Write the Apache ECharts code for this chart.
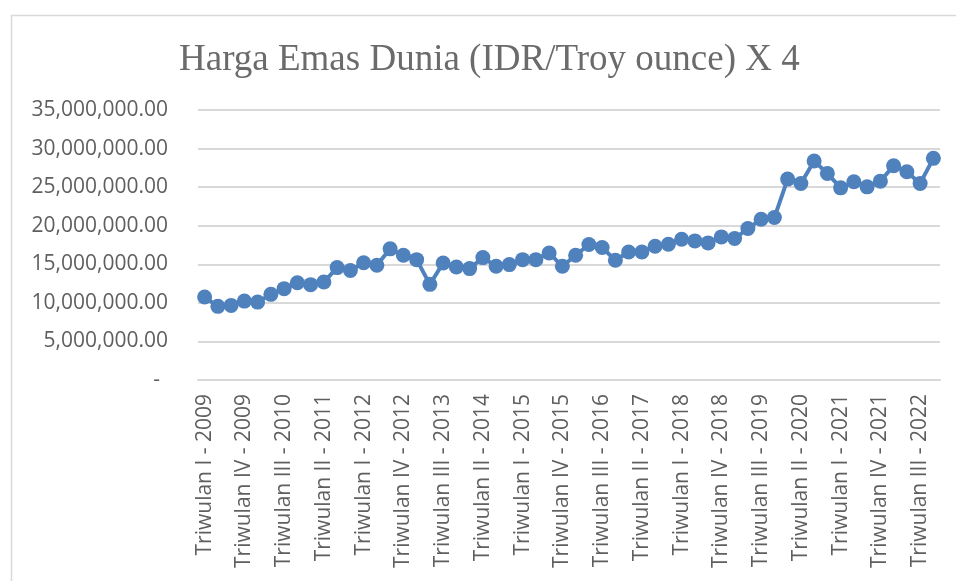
<!DOCTYPE html>
<html>
<head>
<meta charset="utf-8">
<title>Harga Emas Dunia</title>
<script src="https://cdn.jsdelivr.net/npm/echarts@6/dist/echarts.min.js"></script>
<style>
  html, body { margin: 0; padding: 0; background: #fff; }
  #chart { width: 956px; height: 581px; }
</style>
</head>
<body>
<div id="chart"></div>
<script>
// tahun dan triwulan -> kategori sumbu x
const years = [2009, 2010, 2011, 2012, 2013, 2014, 2015, 2016, 2017, 2018, 2019, 2020, 2021, 2022];
const quarters = ['I', 'II', 'III', 'IV'];

// harga emas (IDR/troy ounce) x 4, per triwulan
const prices = [
  10750000, 9550000, 9670000, 10230000, 10100000, 11100000, 11840000, 12600000,
  12360000, 12700000, 14570000, 14200000, 15200000, 14870000, 17000000, 16170000,
  15600000, 12400000, 15170000, 14650000, 14440000, 15870000, 14740000, 14960000,
  15600000, 15600000, 16470000, 14740000, 16170000, 17560000, 17170000, 15520000,
  16600000, 16600000, 17340000, 17600000, 18250000, 18030000, 17770000, 18550000,
  18340000, 19630000, 20840000, 21060000, 26040000, 25480000, 28380000, 26780000,
  24910000, 25690000, 25040000, 25780000, 27770000, 26990000, 25480000, 28730000
];

const yTicks = { min: 0, max: 35000000, step: 5000000 };

let categories = [];
years.forEach(y => {
  quarters.forEach(q => categories.push('Triwulan ' + q + ' - ' + y));
});

function fmt(v) {
  if (v === 0) return '{d|-}';
  let s = String(Math.round(v)).replace(/\B(?=(\d{3})+(?!\d))/g, ',');
  return s + '.00';
}

var myChart = echarts.init(document.getElementById('chart'));
var option = {
  animation: false,
  backgroundColor: '#ffffff',
  title: {
    text: 'Harga Emas Dunia (IDR/Troy ounce) X 4',
    left: 174,
    top: 37,
    textStyle: {
      fontFamily: 'Liberation Serif',
      fontSize: 37,
      fontWeight: 'normal',
      color: '#6b6b6b'
    }
  },
  graphic: [{
    type: 'rect',
    left: 9,
    top: 13,
    shape: { width: 1000, height: 1000 },
    style: { fill: 'none', stroke: '#d9d9d9', lineWidth: 1.5 },
    silent: true
  }],
  grid: {
    left: 198,
    right: 16,
    top: 110,
    bottom: 201
  },
  xAxis: {
    type: 'category',
    data: categories,
    boundaryGap: true,
    axisLine: { lineStyle: { color: '#d9d9d9', width: 2 } },
    axisTick: { show: false },
    axisLabel: {
      interval: 2,
      rotate: 90,
      margin: 14,
      fontFamily: 'Open Sans',
      fontSize: 21,
      color: '#5f5f5f'
    }
  },
  yAxis: {
    type: 'value',
    min: yTicks.min,
    max: yTicks.max,
    interval: yTicks.step,
    axisLine: { show: false },
    axisTick: { show: false },
    splitLine: { lineStyle: { color: '#d9d9d9', width: 2 } },
    axisLabel: {
      margin: 30,
      fontFamily: 'Open Sans',
      fontSize: 21,
      color: '#5f5f5f',
      formatter: fmt,
      rich: {
        d: { fontFamily: 'Open Sans', fontSize: 21, color: '#5f5f5f', padding: [0, 8, 0, 0] }
      }
    }
  },
  series: [{
    name: 'Harga Emas',
    type: 'line',
    data: prices,
    symbol: 'circle',
    symbolSize: 15,
    showAllSymbol: true,
    lineStyle: { color: '#4f81bd', width: 4 },
    itemStyle: { color: '#4f81bd' }
  }]
};
myChart.setOption(option);
</script>
</body>
</html>
